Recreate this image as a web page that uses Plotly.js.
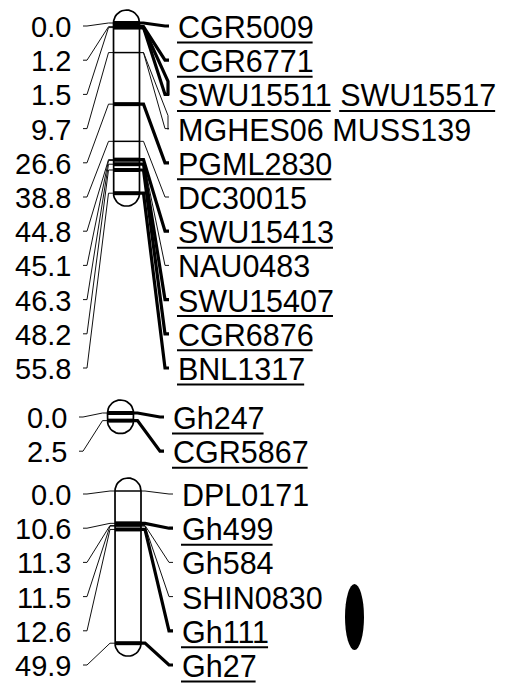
<!DOCTYPE html>
<html><head><meta charset="utf-8">
<script src="https://cdn.plot.ly/plotly-3.0.1.min.js"></script>
<style>html,body{margin:0;padding:0;background:#fff}#chart{width:510px;height:687px}</style>
</head><body><div id="chart"></div>
<script>
// ---- data ----
const g1Pos = [0.0, 1.2, 1.5, 9.7, 26.6, 38.8, 44.8, 45.1, 46.3, 48.2, 55.8];
const g1Names = ["CGR5009","CGR6771","SWU15511 SWU15517","MGHES06 MUSS139","PGML2830","DC30015","SWU15413","NAU0483","SWU15407","CGR6876","BNL1317"];
const g1Major = [1,1,1,0,1,0,1,0,1,1,1];
const g2Pos = [0.0, 2.5];
const g2Names = ["Gh247","CGR5867"];
const g2Major = [1,1];
const g3Pos = [0.0, 10.6, 11.3, 11.5, 12.6, 49.9];
const g3Names = ["DPL0171","Gh499","Gh584","SHIN0830","Gh111","Gh27"];
const g3Major = [0,1,0,0,1,1];

// ---- layout constants ----
const W = 510, H = 687;
const PX_PER_CM = 3.05;
const ROW = 34.2;
const HALF = 13;
const FS_L = 29, FS_R = 30.5;
const FONT = '"Liberation Sans", Arial, sans-serif';
const groups = [
  {pos:g1Pos, names:g1Names, major:g1Major, cx:126.5, y0:23,  lab0:27,  leftTx:72, rightTx:177},
  {pos:g2Pos, names:g2Names, major:g2Major, cx:120.5, y0:413, lab0:418, leftTx:68, rightTx:172},
  {pos:g3Pos, names:g3Names, major:g3Major, cx:128,   y0:491, lab0:495, leftTx:72, rightTx:181}
];

const ctx = document.createElement('canvas').getContext('2d');
ctx.font = FS_R + 'px ' + FONT;
const tw = s => ctx.measureText(s).width;

const thinX=[],thinY=[],thickX=[],thickY=[],bandThinX=[],bandThinY=[],bandThickX=[],bandThickY=[];
const outX=[],outY=[],ulX=[],ulY=[];
const annotations=[];
function push(ax, ay, xs, ys){ for(let i=0;i<xs.length;i++){ax.push(xs[i]);ay.push(ys[i]);} ax.push(null); ay.push(null); }

groups.forEach(g=>{
  const xl = g.cx-HALF, xr = g.cx+HALF;
  const yTop = g.y0, yBot = g.y0 + g.pos[g.pos.length-1]*PX_PER_CM;
  const ox=[],oy=[];
  ox.push(xl); oy.push(yTop); ox.push(xl); oy.push(yBot);
  for(let a=180;a>=0;a-=10){const r=a*Math.PI/180; ox.push(g.cx+HALF*Math.cos(r)); oy.push(yBot+HALF*Math.sin(r));}
  ox.push(xr); oy.push(yTop);
  for(let a=0;a<=180;a+=10){const r=a*Math.PI/180; ox.push(g.cx+HALF*Math.cos(r)); oy.push(yTop-HALF*Math.sin(r));}
  push(outX,outY,ox,oy);
  const lStart = g.leftTx + 11, rEnd = g.rightTx - 8;
  g.pos.forEach((p,i)=>{
    const yb = g.y0 + p*PX_PER_CM;
    const yl = g.lab0 + i*ROW;
    const maj = g.major[i]===1;
    if(maj) push(bandThickX,bandThickY,[xl,xr],[yb,yb]); else push(bandThinX,bandThinY,[xl,xr],[yb,yb]);
    push(thinX,thinY,[lStart,lStart+4,xl-5,xl],[yl-1,yl-1,yb,yb]);
    const parts = g.names[i].split(' ');
    const rx=[xr,xr+4,rEnd-4,rEnd], ry=[yb,yb,yl-1,yl-1];
    if(maj) push(thickX,thickY,rx,ry); else push(thinX,thinY,rx,ry);
    if(parts.length>1){
      const rx2=[xr,xr+4,rEnd-1,rEnd-1,rEnd-1], ry2=[yb,yb,yl-14,yl-14,yl];
      push(maj?thickX:thinX, maj?thickY:thinY, rx2, ry2);
    }
    annotations.push({x:g.leftTx, y:yl, xref:'x', yref:'y', text:p.toFixed(1), showarrow:false, xanchor:'right', yanchor:'middle', font:{family:FONT,size:FS_L,color:'#000'}, borderpad:0});
    annotations.push({x:g.rightTx, y:yl, xref:'x', yref:'y', text:g.names[i], showarrow:false, xanchor:'left', yanchor:'middle', font:{family:FONT,size:FS_R,color:'#000'}, borderpad:0});
    if(maj){
      let x = g.rightTx;
      parts.forEach(w=>{
        const ww = tw(w);
        push(ulX,ulY,[x,x+ww],[yl+15.5,yl+15.5]);
        x += ww + tw(' ');
      });
    }
  });
});

const line = (x,y,w,c)=>({x:x,y:y,type:'scatter',mode:'lines',line:{color:c||'#000',width:w},hoverinfo:'skip',showlegend:false,connectgaps:false});
const data = [
  line(thinX,thinY,1,'#111'),
  line(thickX,thickY,3.2),
  line(outX,outY,1.7),
  line(bandThinX,bandThinY,1.5),
  line(bandThickX,bandThickY,4),
  line(ulX,ulY,2)
];
const blob = {cx:354.5, cy:617, rx:9.5, ry:33};
const layout = {
  width:W, height:H, margin:{l:0,r:0,t:0,b:0},
  paper_bgcolor:'#fff', plot_bgcolor:'#fff',
  xaxis:{range:[0,W],visible:false,fixedrange:true},
  yaxis:{range:[H,0],visible:false,fixedrange:true},
  showlegend:false,
  annotations:annotations,
  shapes:[{type:'circle',xref:'x',yref:'y',x0:blob.cx-blob.rx,x1:blob.cx+blob.rx,y0:blob.cy-blob.ry,y1:blob.cy+blob.ry,fillcolor:'#000',line:{width:0}}]
};
Plotly.newPlot('chart', data, layout, {staticPlot:true, displayModeBar:false});
</script></body></html>
